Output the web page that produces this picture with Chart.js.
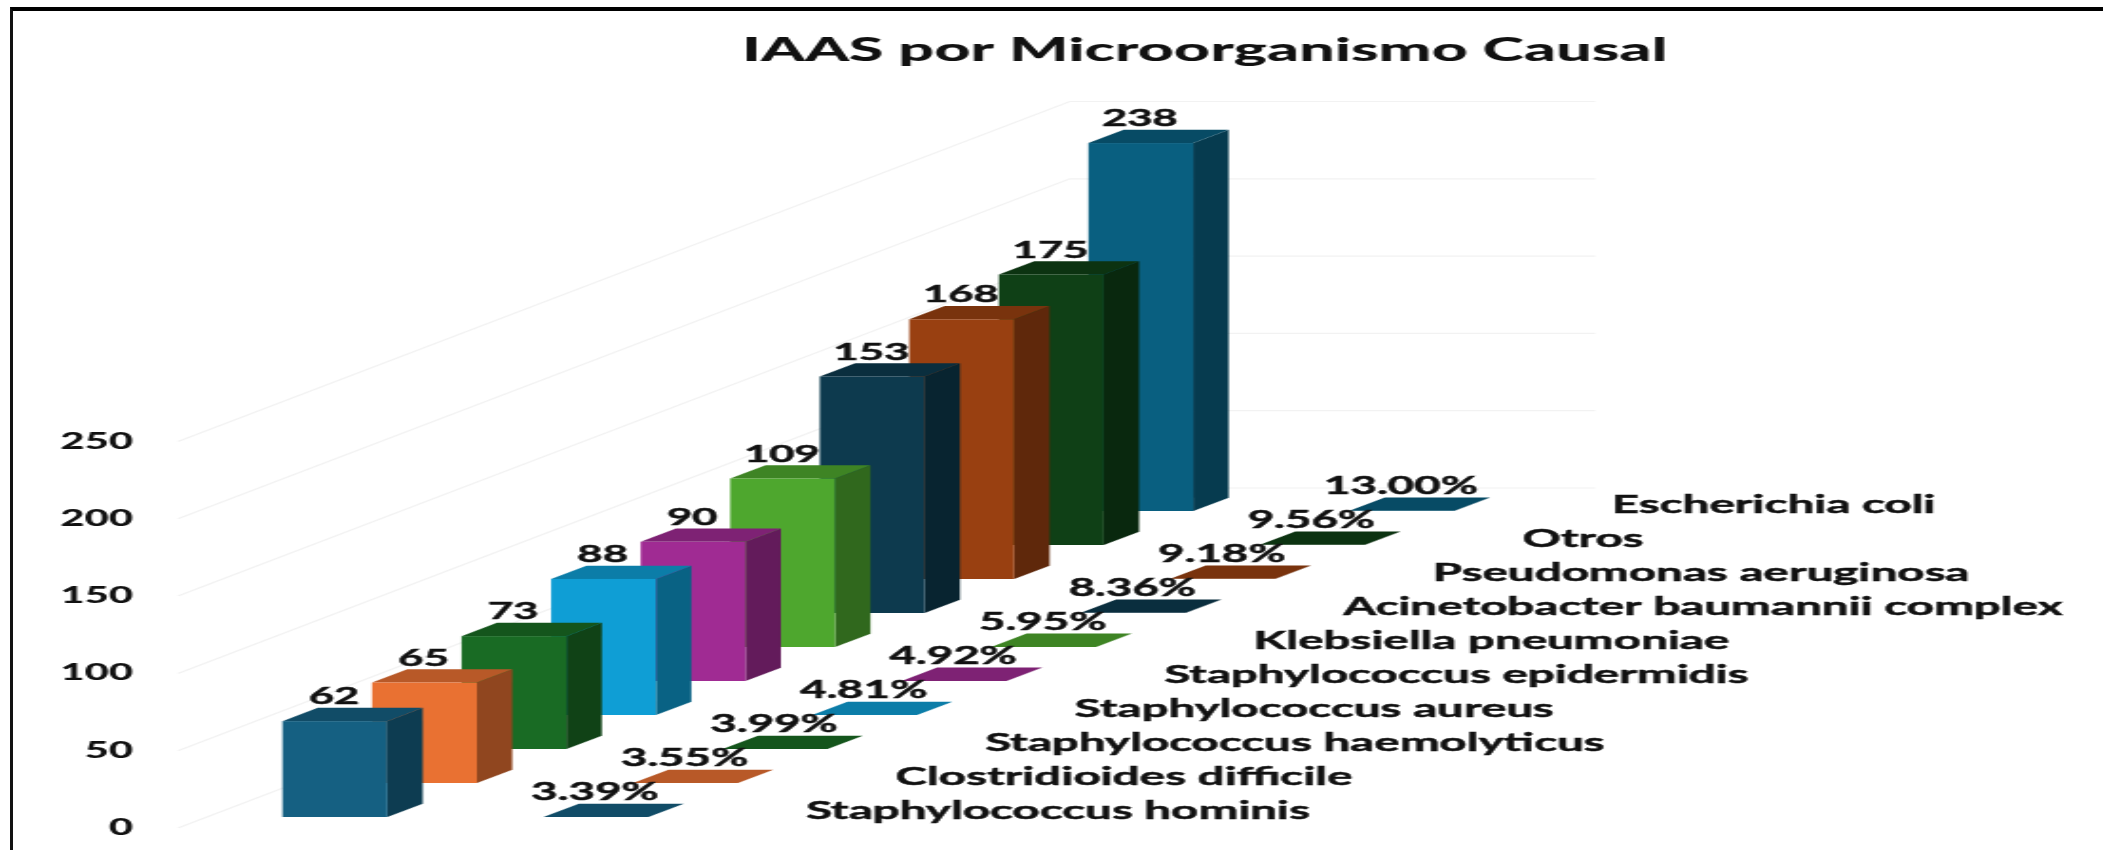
<!DOCTYPE html>
<html>
<head>
<meta charset="utf-8">
<title>IAAS por Microorganismo Causal</title>
<script src="https://cdn.jsdelivr.net/npm/chart.js@4"></script>
<style>
  html, body { margin: 0; background: #fff; overflow: hidden; width: 2103px; height: 850px; }
  /* la imagen original esta estirada a lo ancho, por eso el scaleX */
  #grafico { display: block; transform: scaleX(1.9); transform-origin: 0 0; }
  #borde { position: absolute; left: 10px; top: 7px; right: 0; bottom: 0; border-top: 4px solid #000; border-left: 3px solid #111; }
</style>
</head>
<body>
<canvas id="grafico" width="1107" height="850"></canvas>
<div id="borde"></div>
<script>
// ===== DATOS =====
const categorias = [
  'Staphylococcus hominis', 'Clostridioides difficile', 'Staphylococcus haemolyticus',
  'Staphylococcus aureus', 'Staphylococcus epidermidis', 'Klebsiella pneumoniae',
  'Acinetobacter baumannii complex', 'Pseudomonas aeruginosa', 'Otros', 'Escherichia coli'
];
const casos = [62, 65, 73, 88, 90, 109, 153, 168, 175, 238];
const porcentajes = [0.0339, 0.0355, 0.0399, 0.0481, 0.0492, 0.0595, 0.0836, 0.0918, 0.0956, 0.13];
const colores = [
  '#156082', '#E97132', '#196B24', '#0F9ED5', '#A02B93',
  '#4EA72E', '#0D3A4E', '#994011', '#0F4016', '#095F80'
];

// ===== PROYECCION OBLICUA (en px del canvas sin estirar) =====
const ANCHO_BARRA = 55.2;
const FONDO_X = 18.6;        // desplazamiento de la cara trasera
const FONDO_Y = 13.3;
const PASO_Y = 34;           // cada categoria sube esto hacia el fondo
const BASE_Y = 11;           // la primera barra no apoya sobre la linea del 0
const FILA_PCT_X = 137.4;    // segunda fila (porcentajes)
const FILA_LABEL_X = 275.5;  // nombres de categoria respecto al borde de la barra
const GRID_X = [93.7, 563, 839.5];
const GRID_ALTO = 340;
const FUENTE = 'Lato';

function oscurecer(hex, f) {
  const n = parseInt(hex.slice(1), 16);
  const c = [n >> 16, (n >> 8) & 255, n & 255].map(v => Math.round(v * f));
  return `rgb(${c[0]},${c[1]},${c[2]})`;
}

function poligono(ctx, puntos, color) {
  ctx.fillStyle = color;
  ctx.beginPath();
  puntos.forEach((p, i) => (i ? ctx.lineTo(p[0], p[1]) : ctx.moveTo(p[0], p[1])));
  ctx.closePath();
  ctx.fill();
}

// Texto con un trazo fino para acercarlo al grosor del original
function texto(ctx, t, x, y) {
  ctx.strokeText(t, x, y);
  ctx.fillText(t, x, y);
}

// Controlador de barras 3D: usa las posiciones que calcula BarController
class Barra3DController extends Chart.BarController {
  draw() {
    const ctx = this.chart.ctx;
    const barras = this.getMeta().data;
    const filaX = this.getDataset().filaX || 0;
    // de atras hacia adelante, la primera categoria tapa a las demas
    for (let i = barras.length - 1; i >= 0; i--) {
      const b = barras[i];
      const color = b.options.backgroundColor;
      const dy = BASE_Y + PASO_Y * i;
      const x0 = b.x - b.width / 2 + filaX;
      const x1 = x0 + b.width;
      const yTop = b.y - dy;
      const yBase = b.base - dy;

      poligono(ctx, [[x1, yBase], [x1 + FONDO_X, yBase - FONDO_Y], [x1 + FONDO_X, yTop - FONDO_Y], [x1, yTop]], oscurecer(color, 0.62));
      poligono(ctx, [[x0, yTop], [x1, yTop], [x1 + FONDO_X, yTop - FONDO_Y], [x0 + FONDO_X, yTop - FONDO_Y]], oscurecer(color, 0.79));
      ctx.fillStyle = color;
      ctx.fillRect(x0, yTop, b.width, yBase - yTop);
    }
  }
}
Barra3DController.id = 'barra3d';
Barra3DController.defaults = Chart.BarController.defaults;
Chart.register(Barra3DController);

// Rejilla oblicua, detras de las barras
const rejillaPlugin = {
  id: 'rejilla',
  beforeDatasetsDraw(chart) {
    const { ctx, scales: { y } } = chart;
    ctx.save();
    ctx.strokeStyle = '#f2f2f2';
    ctx.lineWidth = 1.2;
    y.ticks.forEach(t => {
      const py = y.getPixelForValue(t.value);
      ctx.beginPath();
      ctx.moveTo(GRID_X[0], py);
      ctx.lineTo(GRID_X[1], py - GRID_ALTO);
      ctx.lineTo(GRID_X[2], py - GRID_ALTO);
      ctx.stroke();
    });
    ctx.restore();
  }
};

// Etiquetas de valor, porcentaje y categoria
const etiquetasPlugin = {
  id: 'etiquetas',
  afterLayout(chart) {
    // el titulo no va centrado en el canvas
    chart.titleBlock.left = 0;
    chart.titleBlock.right = 1268;
  },
  afterDatasetsDraw(chart) {
    const { ctx } = chart;
    ctx.save();
    ctx.fillStyle = '#111';
    ctx.strokeStyle = '#111';
    ctx.lineWidth = 0.5;
    ctx.textBaseline = 'middle';

    ctx.textAlign = 'center';
    ctx.font = `bold 23px ${FUENTE}`;
    chart.getDatasetMeta(0).data.forEach((b, i) => {
      texto(ctx, casos[i], b.x - 0.5, b.y - BASE_Y - PASO_Y * i - FONDO_Y - 11);
    });
    ctx.font = `bold 24px ${FUENTE}`;
    chart.getDatasetMeta(1).data.forEach((b, i) => {
      texto(ctx, (porcentajes[i] * 100).toFixed(2) + '%', b.x + FILA_PCT_X - 0.5, b.y - BASE_Y - PASO_Y * i - FONDO_Y - 11);
    });

    ctx.textAlign = 'left';
    ctx.font = `bold 25px ${FUENTE}`;
    chart.getDatasetMeta(0).data.forEach((b, i) => {
      texto(ctx, categorias[i], b.x - ANCHO_BARRA / 2 + FILA_LABEL_X, b.base - BASE_Y - PASO_Y * i - 6);
    });
    ctx.restore();
  }
};

new Chart(document.getElementById('grafico'), {
  type: 'barra3d',
  data: {
    labels: categorias,
    datasets: [
      { label: 'Casos', data: casos, backgroundColor: colores, barThickness: ANCHO_BARRA, grouped: false, clip: false },
      { label: 'Porcentaje', data: porcentajes, backgroundColor: colores, barThickness: ANCHO_BARRA, grouped: false, clip: false, filaX: FILA_PCT_X }
    ]
  },
  options: {
    responsive: false,
    animation: false,
    layout: { padding: { left: 0, right: 483, top: 0, bottom: 22 } },
    plugins: {
      legend: { display: false },
      tooltip: { enabled: false },
      title: {
        display: true,
        text: 'IAAS por Microorganismo Causal',
        color: '#111',
        font: { family: FUENTE, size: 33, weight: '900' },
        padding: { top: 31, bottom: 370.9 }
      }
    },
    scales: {
      x: { display: false, grid: { display: false } },
      y: {
        min: 0,
        max: 250,
        afterFit(s) {
          s.width = 152.7;
          // el padding de los ticks no debe recortar el area del grafico
          s.paddingTop = 0;
          s.paddingBottom = 0;
        },
        grid: { display: false, drawTicks: false },
        border: { display: false },
        ticks: {
          stepSize: 50,
          padding: 82.7,
          color: '#111',
          font: { family: FUENTE, size: 22, weight: '900' }
        }
      }
    }
  },
  plugins: [rejillaPlugin, etiquetasPlugin]
});
</script>
</body>
</html>
